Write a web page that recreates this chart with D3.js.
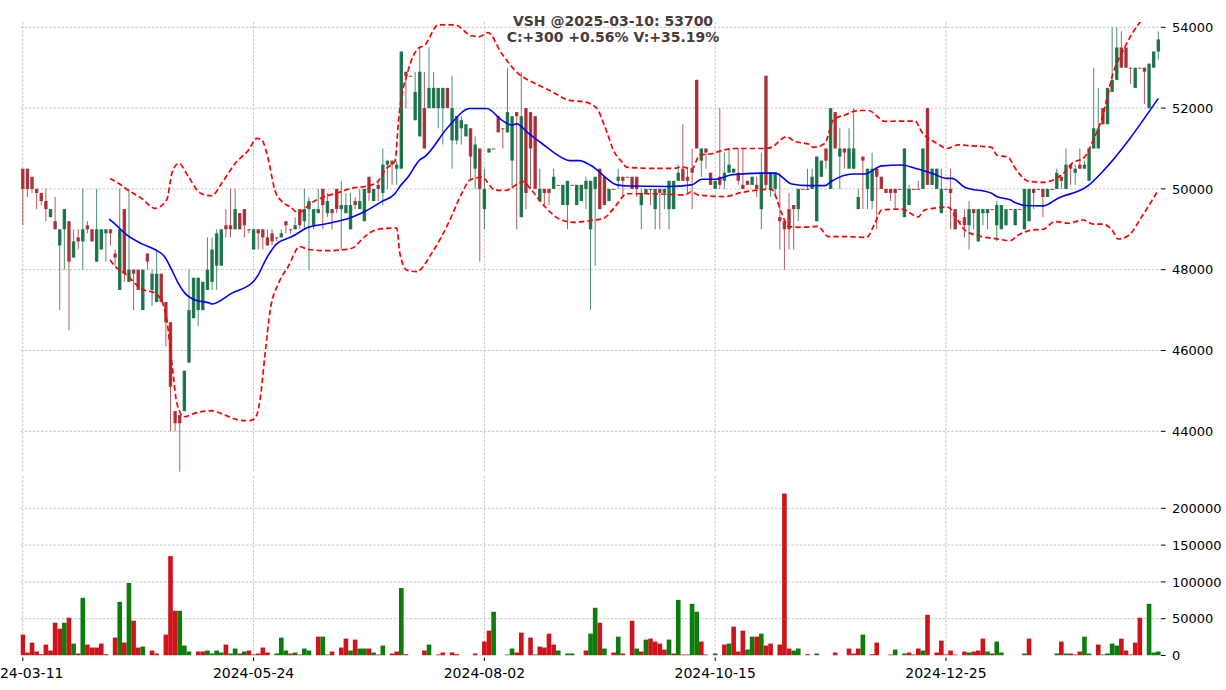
<!DOCTYPE html>
<html><head><meta charset="utf-8">
<script src="https://cdn.jsdelivr.net/npm/d3@7"></script>
<style>body{margin:0;background:#fff;overflow:hidden}svg{display:block;font-family:"DejaVu Sans",sans-serif}</style>
</head><body><svg id="c" width="1226" height="690"></svg>
<script>
const opens=[50500,50500,50300,50000,49900,49700,49300,49200,48600,49000,
49200,48300,48800,48700,49100,49000,48200,48500,48900,49000,
48400,47500,49500,47700,48000,48000,47000,48400,47500,47200,
47900,47200,46700,44500,44400,44500,45700,46800,47000,47000,
47500,47700,48100,48100,49100,49100,49000,49400,49500,49000,
48500,49000,49000,48800,48900,48800,48800,49200,49000,49000,
49500,49200,49500,49100,49400,50000,49400,49500,50000,49500,
49400,49000,49700,49500,49200,50300,49700,50100,49900,50600,
50700,50500,50500,52900,52800,51700,51300,52000,52000,52000,
52000,52000,52500,51200,51200,51500,51300,51500,50500,51000,
49500,50900,51000,51800,51500,51400,50700,51900,49300,52000,
51900,51800,49700,50000,50000,50000,50100,49600,49600,50100,
49600,49700,50000,49000,50000,50500,50300,49700,50000,50200,
50300,50300,50300,50300,49600,49900,50000,49500,50000,49900,
49500,49500,50200,50500,50300,50500,52700,50700,51000,50400,
50000,50300,50200,50400,50400,50400,50100,50200,50100,50100,
49500,52800,50000,50000,49300,49200,49500,49600,49500,50000,
50000,50000,49200,50300,51000,50000,51900,50800,51000,50500,
50500,49500,50800,50000,49700,50500,50300,50000,50000,50000,
50000,49300,49600,50000,50000,50000,52000,50100,50000,49400,
50000,50000,49500,49200,49300,49100,49500,48700,49400,49400,
49500,49100,49000,49100,49500,49100,49500,49000,49200,50000,
50000,50000,49800,50000,50000,50300,50000,50600,50400,50600,
50500,50200,51000,51000,52000,51600,52400,52700,53500,53500,
53000,52500,53000,53000,52000,53000,53400];
const highs=[50500,50500,50300,50000,49900,50000,49500,49800,49000,49500,
49200,49000,49000,50000,49200,49000,50000,49000,49000,49000,
48500,50000,49500,50000,48000,48000,48000,48400,48000,48500,
47900,47200,46700,44500,44400,45500,48000,47800,47800,47700,
48800,48800,49000,49000,49500,50000,50000,49400,49500,49000,
49000,49000,49000,49000,49000,48800,49000,49200,49000,49300,
49500,50000,49800,49500,50000,50000,49900,49500,50000,50200,
49900,49900,49800,50000,50000,50300,50000,50200,51000,50700,
50700,50700,53400,52900,52800,52900,53500,52900,53500,52900,
52500,52500,52500,52800,51800,51800,51600,51500,51300,51000,
50500,51000,51000,51800,51500,53000,51800,51900,52900,52000,
51900,51800,50500,50000,50000,50500,50100,50100,50200,50100,
50100,50100,50300,50200,50300,50500,50300,50000,50000,50500,
50300,50300,50300,50300,50000,50000,50000,50000,50000,50000,
50200,50200,50600,51600,50500,51000,52700,51000,51000,50400,
50200,52000,50900,51000,50500,51000,51000,50200,50300,50300,
50900,52800,50400,50400,50400,49200,49900,49600,50000,50000,
50500,50500,50800,50700,51000,52000,51900,51500,51000,51500,
52000,50000,50800,50500,50900,50500,50300,50000,50000,50000,
50000,51000,50100,50000,50200,51000,52000,50500,50500,50500,
50000,50500,49500,49200,49500,49700,49500,49500,49500,49500,
49500,49700,49600,49500,49500,49500,49500,50000,50000,50000,
50000,50000,50000,50000,50500,50300,51000,50600,50600,51000,
50700,51000,53000,52500,52000,52500,54000,54000,53900,53500,
53000,53000,53000,53000,53100,53400,53900];
const lows=[49100,49800,49900,49500,49600,49200,49300,49000,47000,48000,
46500,48300,48500,48000,48900,48700,48200,48500,48200,48600,
48100,47500,47700,47700,47000,47500,47000,48000,47100,47200,
47200,46100,44000,44000,43000,44500,45700,46800,46600,47000,
47500,47500,47500,48100,48800,48800,49000,49000,48800,48900,
48500,48500,48500,48600,48600,48700,48800,48900,48900,49000,
49000,49000,48000,49000,49400,49000,49300,49000,49400,48500,
49400,49000,49500,49500,49200,49700,49700,49700,49600,50000,
50100,50100,50500,52000,52800,51700,51300,51000,52000,52000,
51500,51100,52000,50500,51100,51100,51300,50200,50000,48200,
49000,50900,51000,51400,51000,51400,50000,49000,49300,49500,
50000,50000,49700,49600,49600,50000,50100,49600,49000,50100,
49600,49700,49500,47000,48100,49500,49600,49700,50000,50000,
49800,50300,50000,49800,49000,49900,49600,49000,49000,49500,
49000,49500,50200,50200,49900,49500,51000,50300,50500,50100,
50000,50000,50000,50400,50400,50100,50000,50100,50100,49800,
49000,50000,49800,49800,48500,48000,48500,48500,49200,50000,
50000,50000,49200,50300,50500,50000,51000,50000,50500,50500,
50500,49500,49500,49500,49500,49000,50000,49900,49700,49500,
50000,49300,49600,50000,50000,50000,50100,50100,50000,49400,
50000,49000,49000,49200,48800,48500,49000,48700,49100,49000,
49500,48700,49000,49100,49500,49100,49500,49000,49200,49500,
50000,49300,49800,50000,50000,50000,50000,50100,50100,50500,
50500,50200,51000,51000,51600,51600,52400,52700,53000,53000,
52600,52500,53000,52100,52000,53000,53200];
const closes=[50000,50000,50000,49900,49700,49500,49500,49000,49000,49500,
48200,48700,48700,49000,49000,48700,49000,49000,49000,48900,
48300,49000,47900,48000,47900,47500,48000,48200,47900,47900,
47200,46700,45100,44200,44200,45500,47000,47800,47800,47700,
48000,48500,48900,49000,49000,49000,49500,49000,49100,49000,
49000,48900,48800,48600,48700,48800,48900,49100,49000,49100,
49100,49500,49700,49500,49500,49600,49700,49400,49500,49600,
49600,49600,49600,49700,50000,49900,50000,50000,50600,50700,
50600,50600,53400,52800,52800,52400,52900,51000,52500,52500,
52500,52500,52000,52000,51800,51700,51600,50800,51100,50000,
50000,51000,51000,51400,51500,51900,51800,51800,51800,49900,
51000,50000,50000,49900,49900,50300,50100,50100,50200,50100,
50100,50100,50200,50200,50300,49500,49600,50000,50000,50300,
50200,50300,50000,50000,49900,50000,50000,50000,49900,50000,
50200,50200,50400,50200,50200,50400,51000,51000,50900,50100,
50200,50100,50400,50600,50500,50200,50000,50100,50300,50000,
50400,50100,50400,50400,49200,49000,49000,49500,50000,50000,
50000,50300,50800,50700,50700,52000,51000,51000,50900,51000,
51000,49800,50700,50500,50500,50300,50000,49900,49900,49900,
50000,51000,50000,50000,50000,51000,50100,50500,50500,50000,
50000,49900,49000,49200,49100,49500,49400,49500,49500,49500,
49500,49600,49600,49500,49500,49500,49500,50000,50000,49900,
50000,49800,50000,50000,50400,50200,50600,50500,50500,50500,
50600,51000,51500,51500,51600,52500,52700,53500,53000,53000,
53000,53000,53000,52900,53100,53400,53700];
const volumes=[28350,4050,17550,5400,1800,14850,6750,44550,36450,44550,
51300,16200,2700,78300,14850,10800,10800,16200,1800,0,
24300,72900,17550,98550,47250,10800,12150,0,6750,2700,
0,28350,135000,60750,60750,13500,5400,0,5400,5400,
6750,2700,6750,4050,14850,2700,9450,2700,5400,6750,
1350,2700,10800,4050,0,2700,24300,6750,2700,4050,
1350,9450,6750,0,25650,25650,1350,5400,0,10800,
22950,6750,21600,9450,9450,9450,4050,1350,13500,0,
2700,5400,91800,1800,0,0,0,6750,14850,0,
1350,4050,0,4050,1800,0,0,0,2700,0,
18900,33750,59400,0,0,1350,9450,4050,31050,0,
24300,1350,12150,10800,29700,14850,6750,0,2700,2700,
0,0,6750,29700,64800,44550,9450,0,4050,25650,
2700,0,47250,9450,5400,21600,22950,18900,16200,8100,
21600,2700,75600,1350,1350,70200,59400,18900,1350,0,
2700,0,14850,16200,39150,5400,33750,8100,25650,25650,
29700,13500,16200,0,14850,220050,9450,6750,9450,0,
1800,0,2700,0,0,0,4050,0,0,9450,
2700,9450,28350,0,1800,17550,0,0,1350,8100,
0,2700,4050,1350,9450,6750,55350,0,4050,20250,
1350,6750,1350,0,5400,4050,5400,6750,22950,5400,
2700,18900,4050,0,0,0,0,2700,22950,0,
0,0,0,0,2700,18900,2700,2700,1350,5400,
25650,2700,0,14850,1350,2700,16200,13500,22950,6750,
1350,17550,51300,0,70200,4000,5400];
const volumeUp=[0,0,0,0,0,0,0,0,0,1, 0,1,0,1,0,0,0,0,0,0, 0,1,0,1,0,0,1,0,0,0,
0,0,0,0,1,1,1,0,0,0, 1,1,1,1,0,1,1,0,1,0, 0,0,0,0,0,1,1,1,0,1,
0,1,1,0,0,1,1,0,0,0, 0,1,0,1,1,0,1,0,1,0, 0,0,1,0,0,0,0,0,1,0,
0,0,0,0,0,0,0,0,0,0, 0,0,1,0,0,1,1,0,0,0, 0,1,0,0,0,0,1,0,1,1,
0,0,0,1,1,0,1,0,0,1, 0,0,0,1,0,1,0,0,0,0, 1,0,1,0,0,1,1,0,0,0,
1,0,0,1,0,0,0,1,1,0, 1,0,0,0,0,0,0,1,1,0, 0,0,1,0,0,0,0,0,0,0,
0,0,1,0,0,0,0,0,0,1, 0,1,0,0,0,1,0,0,0,0, 0,0,0,0,0,1,0,0,0,1,
0,1,1,0,0,0,0,1,0,0, 0,0,0,0,1,0,1,0,0,0, 1,1,0,0,1,1,1,1,0,0,
0,0,0,0,1,1,1];
// moving average and bands, read as [candle index, price]
const maPoints=[[18.7,49250],[20,49130],[22.1,48900],[25.8,48640],[28.6,48500],[30.8,48310],[32.3,47990],[33.7,47660],[35.1,47420],[37.3,47250],[40.6,47170],[40.9,47150],[45.3,47420],[49.9,47700],[51,47870],[52.5,48220],[55,48640],[58.3,48820],[61.9,49050],[65.5,49130],[71.3,49300],[74.1,49440],[77.8,49690],[80.6,49880],[81.7,50060],[83.5,50300],[86,50720],[87.1,50800],[92.2,51540],[96.9,51990],[100.5,51990],[103.7,51710],[105.9,51580],[107,51610],[109.5,51380],[112.4,51130],[115.3,50880],[118.5,50700],[120.6,50700],[122.9,50590],[124,50510],[126.1,50300],[128.7,50100],[131.2,50070],[139.8,50060],[144.9,50100],[147.1,50240],[150,50240],[153.6,50350],[160.1,50390],[163,50390],[166.6,50120],[170.2,50080],[173.8,50080],[175.2,50190],[179.9,50370],[182.4,50370],[186.1,50570],[190.4,50590],[193.3,50510],[196.9,50390],[200.2,50260],[201.3,50260],[204.1,50040],[209.9,49890],[211,49810],[213.9,49730],[215,49660],[217.1,49590],[221.1,49580],[224.3,49770],[230.8,50080],[233.7,50400],[246,52240]];
const upperPoints=[[18.9,50260],[20.7,50140],[22.9,49960],[25.7,49770],[28.6,49520],[31.2,49730],[32.3,50390],[33.8,50630],[35.9,50300],[38.4,49900],[40.9,49830],[43.1,50140],[46,50630],[48.9,50960],[50.7,51250],[51.8,51210],[53.2,50720],[54.6,49970],[56.1,49690],[57.9,49560],[59.7,49410],[62.6,49660],[65.5,49810],[68.4,49910],[71.3,50020],[74.1,50060],[76.7,50160],[78.8,50510],[80.6,50680],[81.5,51810],[83.5,52940],[85.7,53480],[87.1,53560],[90,54060],[93.6,54060],[97.2,53790],[99,53770],[100.8,53870],[103.7,53360],[107.3,52860],[111,52610],[114.6,52410],[118.2,52200],[121.8,52150],[124.3,52000],[126.1,51540],[128.3,50880],[129.7,50680],[130.8,50540],[136.2,50510],[141.3,50510],[142.7,50550],[144.9,50490],[146.7,50840],[149.3,50870],[151.4,50950],[154.3,51000],[160.8,51000],[162.6,51050],[164,51200],[165.5,51290],[167.3,51170],[170.2,51110],[171.3,51030],[173.8,51130],[175.6,51710],[178.1,51830],[181,51940],[183.2,51940],[186.8,51670],[189.6,51680],[193.3,51680],[194.7,51420],[198.3,51110],[200.2,51000],[202.7,51090],[205.2,51070],[209.9,51030],[211,50840],[213.5,50780],[215,50510],[217.9,50190],[221.1,50160],[223.2,50220],[225.8,50430],[227.2,50620],[230.1,50800],[231.9,51210],[233.7,51710],[236.2,52860],[238.8,53520],[241.6,54060],[244,54350],[246,54600]];
const lowerPoints=[[18.9,48240],[20,48080],[22.1,47910],[25.8,47520],[28.6,47420],[30,47250],[31.2,46760],[32.3,45680],[33.4,44690],[34.9,44360],[37.3,44450],[40.9,44510],[43.8,44400],[46.7,44280],[48.9,44260],[50.3,44320],[51.4,44780],[52.5,45930],[53.6,47000],[55.4,47660],[57.5,48080],[60,48570],[61.9,48500],[66.2,48470],[69.1,48490],[71.3,48530],[74.1,48820],[76.3,48980],[78.5,49020],[81,49030],[81.7,48400],[83.2,47990],[85.3,47950],[88.6,48410],[92.2,49150],[95.1,49890],[96.9,50220],[99.4,50290],[102.3,49970],[104.5,49960],[108.4,50180],[110.2,49970],[113.1,49560],[116.7,49230],[119.6,49170],[122,49200],[124,49230],[125.8,49270],[128.3,49560],[129.7,49770],[130.8,49880],[136.2,49880],[143.5,49850],[144.8,49930],[146.3,49850],[152.1,49810],[155.7,49910],[162.2,49990],[164.4,49400],[165.8,49070],[168.4,49050],[172.3,49070],[174.5,48820],[178.1,48820],[182.8,48800],[184.6,49150],[186.1,49480],[190.4,49500],[194,49310],[195.4,49480],[200.4,49550],[202.3,49270],[204.1,48980],[207.7,48820],[210.6,48770],[213.9,48720],[215.7,48860],[218.6,48980],[221.1,49000],[223.6,49190],[226.5,49150],[229.7,49230],[231.9,49130],[233.7,49130],[235.9,49000],[237.3,48760],[239.5,48840],[242.4,49310],[246,49970]];
const priceTicks=[44000,46000,48000,50000,52000,54000];
const volumeTicks=[0,50000,100000,150000,200000];
const dateTickIndex=[0,50,100,150,200];
const dateTickLabels=["2024-03-11","2024-05-24","2024-08-02","2024-10-15","2024-12-25"];
const titleLines=["VSH @2025-03-10: 53700","C:+300 +0.56% V:+35.19%"];

const svg=d3.select("#c");
const L=20.5,R=1161,PT=22,PB=472,VT=476,VB=655.5;
const n=opens.length;
const x=d3.scaleLinear().domain([0,n-1]).range([22.8,1158.3]);
const yP=d3.scaleLinear().domain([44000,54000]).range([431.3,27.3]);
const yV=d3.scaleLinear().domain([0,200000]).range([VB,508.3]);
const step=x(1)-x(0);

const defs=svg.append("defs");
defs.append("clipPath").attr("id","cp").append("rect").attr("x",L).attr("y",PT).attr("width",R-L).attr("height",PB-PT);
defs.append("clipPath").attr("id","cv").append("rect").attr("x",L).attr("y",VT).attr("width",R-L).attr("height",VB-VT);

const grid=svg.append("g").attr("stroke","#b8b8b8").attr("stroke-width",0.8).attr("stroke-dasharray","2.5,1.6");
priceTicks.forEach(t=>grid.append("line").attr("x1",L).attr("x2",R).attr("y1",yP(t)).attr("y2",yP(t)));
volumeTicks.filter(t=>t>0).forEach(t=>grid.append("line").attr("x1",L).attr("x2",R).attr("y1",yV(t)).attr("y2",yV(t)));
dateTickIndex.forEach(i=>{
  grid.append("line").attr("x1",x(i)).attr("x2",x(i)).attr("y1",PT).attr("y2",PB);
  grid.append("line").attr("x1",x(i)).attr("x2",x(i)).attr("y1",VT).attr("y2",VB);
});

const UP="#0d6b40",DN="#a3252b";
const pg=svg.append("g").attr("clip-path","url(#cp)");
const idx=d3.range(n);
pg.append("g").selectAll("line").data(idx).join("line")
  .attr("x1",i=>x(i)).attr("x2",i=>x(i))
  .attr("y1",i=>yP(Math.max(highs[i],opens[i],closes[i])))
  .attr("y2",i=>yP(Math.min(lows[i],opens[i],closes[i])))
  .attr("stroke",i=>closes[i]>opens[i]?UP:DN).attr("stroke-width",1).attr("opacity",0.75);
const bw=3.4;
pg.append("g").selectAll("rect").data(idx).join("rect")
  .attr("x",i=>x(i)-bw/2).attr("width",bw)
  .attr("y",i=>yP(Math.max(opens[i],closes[i])))
  .attr("height",i=>Math.max(1,yP(Math.min(opens[i],closes[i]))-yP(Math.max(opens[i],closes[i]))))
  .attr("fill",i=>closes[i]>opens[i]?UP:DN).attr("opacity",0.9);

const line=d3.line().x(d=>x(d[0])).y(d=>yP(d[1])).curve(d3.curveMonotoneX);
pg.append("path").attr("d",line(upperPoints)).attr("fill","none").attr("stroke","#ff0000").attr("stroke-width",1.7).attr("stroke-dasharray","5.5,3");
pg.append("path").attr("d",line(lowerPoints)).attr("fill","none").attr("stroke","#ff0000").attr("stroke-width",1.7).attr("stroke-dasharray","5.5,3");
pg.append("path").attr("d",line(maPoints)).attr("fill","none").attr("stroke","#0000ff").attr("stroke-width",1.6);

const vg=svg.append("g").attr("clip-path","url(#cv)");
vg.selectAll("rect").data(idx.filter(i=>volumes[i]>0)).join("rect")
  .attr("x",i=>x(i)-step/2).attr("width",step)
  .attr("y",i=>yV(volumes[i])).attr("height",i=>VB-yV(volumes[i]))
  .attr("fill",i=>volumeUp[i]?"#0a7d0a":"#d0121b");

const ax=svg.append("g").attr("fill","#000");
function yAxis(scale,ticks){
  ticks.forEach(t=>{
    ax.append("line").attr("x1",R).attr("x2",R+4.5).attr("y1",scale(t)).attr("y2",scale(t)).attr("stroke","#000").attr("stroke-width",1);
    ax.append("text").attr("x",R+11).attr("y",scale(t)).attr("dy","0.36em").attr("font-size",13).text(t);
  });
}
yAxis(yP,priceTicks);
yAxis(yV,volumeTicks);
dateTickIndex.forEach((i,k)=>{
  ax.append("line").attr("x1",x(i)).attr("x2",x(i)).attr("y1",VB+2).attr("y2",VB+5.5).attr("stroke","#000");
  ax.append("text").attr("x",x(i)).attr("y",677.5).attr("text-anchor","middle").attr("font-size",14).text(dateTickLabels[k]);
});

svg.append("g").attr("font-size",14).attr("font-weight","bold").attr("fill","#4a3b3b").attr("text-anchor","middle")
  .selectAll("text").data(titleLines).join("text").attr("x",613).attr("y",(d,k)=>25.5+k*16).text(d=>d);
</script></body></html>
